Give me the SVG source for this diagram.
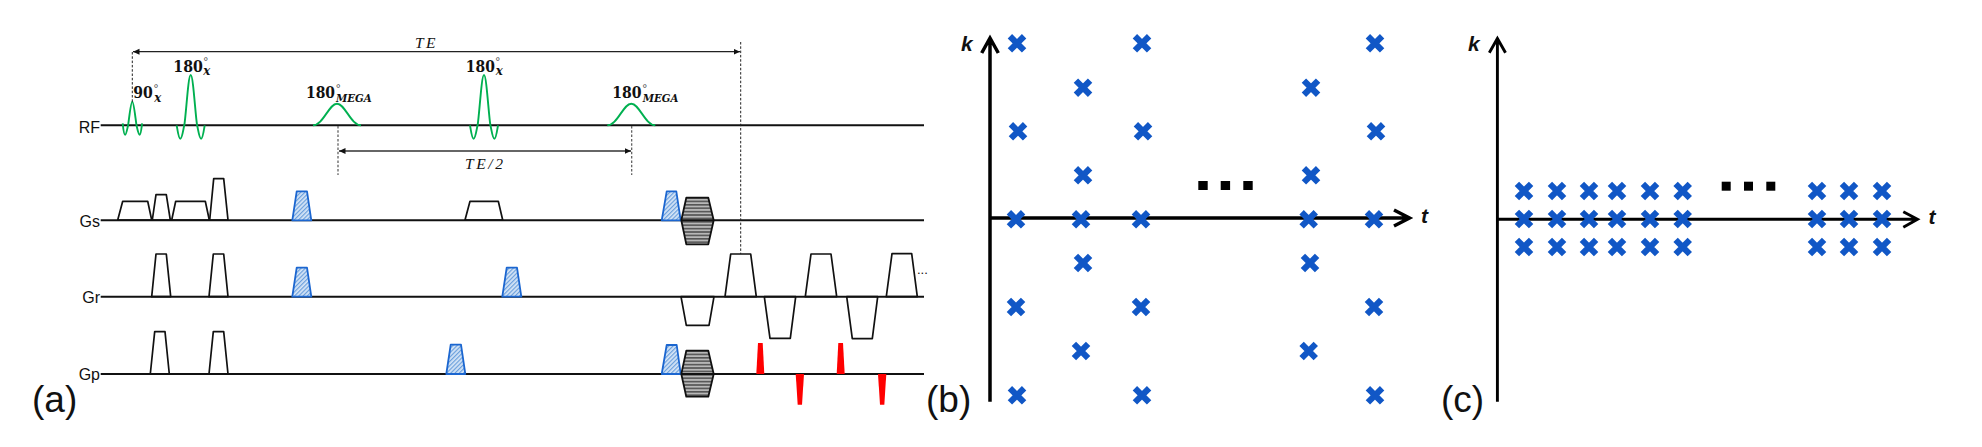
<svg xmlns="http://www.w3.org/2000/svg" xmlns:xlink="http://www.w3.org/1999/xlink" width="1982" height="447" viewBox="0 0 1982 447">
<style>
text{font-family:"Liberation Sans",Arial,sans-serif;fill:#111}
.lab{font-size:16px}
.pan{font-size:37px}
.ax{font-size:21px;font-weight:bold;font-style:italic}
.num{font-family:"DejaVu Serif",serif;font-weight:bold;font-size:16px}
.sub{font-family:"DejaVu Serif",serif;font-weight:bold;font-style:italic;font-size:11px}
.subx{font-family:"DejaVu Serif",serif;font-weight:bold;font-style:italic;font-size:12.5px}
.deg{font-family:"DejaVu Sans",sans-serif;font-size:11px;fill:#555}
.te{font-family:"Liberation Serif",serif;font-style:italic;font-size:15.5px}
.base{stroke:#111;stroke-width:1.9;fill:none}
.g{stroke:#111;stroke-width:1.7;fill:#fff;stroke-linejoin:round}
.b{stroke:#1b66d0;stroke-width:1.8;fill:url(#hatch);stroke-linejoin:round}
.h{stroke:#111;stroke-width:1.8;fill:url(#stripe);stroke-linejoin:round}
.r{fill:#ff0000}
.rf{stroke:#00b050;stroke-width:1.9;fill:none}
.dash{stroke:#222;stroke-width:1;stroke-dasharray:2.5 1.8;fill:none}
.dashg{stroke:#555;stroke-width:1.2;stroke-dasharray:2.5 1.8;fill:none}
.axis{stroke:#000;fill:none;stroke-linejoin:miter}
.sq{fill:#000}
</style>
<defs>
<pattern id="hatch" width="3" height="3" patternUnits="userSpaceOnUse" patternTransform="rotate(-45)">
<rect width="3" height="3" fill="#d6e5f7"/><rect width="3" height="1.2" fill="#6a9fdc"/>
</pattern>
<pattern id="stripe" width="3.4" height="3.4" patternUnits="userSpaceOnUse">
<rect width="3.4" height="3.4" fill="#b8b8b8"/><rect width="3.4" height="1.6" fill="#555"/>
</pattern>
<marker id="ah" markerWidth="8" markerHeight="7" refX="6.5" refY="3" orient="auto-start-reverse" markerUnits="userSpaceOnUse">
<path d="M0,0 L6.5,3 L0,6 Z" fill="#111"/>
</marker>
<path id="s180" class="rf" d="M-14,0 C-13,6 -12,13.4 -10.4,13.4 C-8.5,13.4 -7.5,4 -6.4,0 C-4.5,-12 -2.5,-50.3 0,-50.3 C2.5,-50.3 4.5,-12 6.4,0 C7.5,4 8.5,13.4 10.4,13.4 C12,13.4 13,6 14,0"/>
<path id="s90" class="rf" d="M-9.6,-2 C-9,4 -8.5,9.4 -7.2,9.4 C-6,9.4 -5,3 -4.2,0 C-3,-8 -1.5,-23.6 0,-23.6 C1.5,-23.6 3,-8 4.2,0 C5,3 6,9.4 7.5,9.4 C8.5,9.4 9,4 9.8,-2"/>
<path id="gau" class="rf" d="M-24,0 C-14,0 -8,-21.6 0,-21.6 C8,-21.6 14,0 24,0"/>
<path id="x" d="M-7.1,-7.1 L7.1,7.1 M-7.1,7.1 L7.1,-7.1" stroke="#1157c6" stroke-width="6.2" fill="none"/>
</defs>
<rect width="1982" height="447" fill="#fff"/>

<g id="panel-a">
<g id="row-rf">
<text class="lab" x="100" y="132.7" text-anchor="end">RF</text>
<path class="base" d="M100.7,125.3 H924"/>
<use xlink:href="#s90" href="#s90" x="132.3" y="125.3"/>
<use xlink:href="#s180" href="#s180" x="190.7" y="125.3"/>
<use xlink:href="#gau" href="#gau" x="337" y="125.3"/>
<use xlink:href="#s180" href="#s180" x="484" y="125.3"/>
<use xlink:href="#gau" href="#gau" x="631.3" y="125.3"/>
</g>
<g id="row-gs">
<text class="lab" x="100" y="227.3" text-anchor="end">Gs</text>
<path class="g" d="M117.7,220 L122.7,201.3 H147.7 L151.7,220 Z"/>
<path class="g" d="M152.3,220 L156,194.7 H166.3 L170.3,220 Z"/>
<path class="g" d="M171.7,220 L175.7,201.3 H205.3 L209.3,220 Z"/>
<path class="g" d="M209.7,220 L213.7,178.7 H223.7 L228,220 Z"/>
<path class="g" d="M465,220 L470,201.3 H498.3 L502.7,220 Z"/>
<path class="base" d="M100.7,220.3 H924"/>
<path class="b" d="M292.3,220.3 L296.7,191.3 H307 L311.3,220.3 Z"/>
<path class="b" d="M661.7,220.3 L666.7,191.3 H676.3 L680.7,220.3 Z"/>
<path class="h" d="M681.3,220.3 L686.3,197.7 H708.3 L713.7,220.3 L708.3,244.3 H686.3 Z"/>
<path class="base" d="M681.3,220.3 H713.7"/>
</g>
<g id="row-gr">
<text class="lab" x="100" y="303.3" text-anchor="end">Gr</text>
<path class="g" d="M151.7,296.7 L156,254 H166.3 L170.7,296.7 Z"/>
<path class="g" d="M209,296.7 L213.3,254 H223.7 L228,296.7 Z"/>
<path class="g" d="M681,296.7 L686.3,325.3 H709 L714,296.7 Z"/>
<path class="g" d="M725,296.7 L730.7,254 H750.7 L756.3,296.7 Z"/>
<path class="g" d="M764.3,296.7 L770,338.3 H790.3 L795.7,296.7 Z"/>
<path class="g" d="M805.3,296.7 L811,254 H831 L836.7,296.7 Z"/>
<path class="g" d="M846.7,296.7 L852.3,338.7 H872.3 L877.7,296.7 Z"/>
<path class="g" d="M886.3,296.7 L892,253.7 H911.7 L917.3,296.7 Z"/>
<path class="base" d="M100.7,296.7 H924"/>
<path class="b" d="M292.3,296.7 L296.7,267.7 H307 L311.3,296.7 Z"/>
<path class="b" d="M502.3,296.7 L506.7,267.7 H517 L521.3,296.7 Z"/>
<text x="917" y="274" style="font-size:13px">...</text>
</g>
<g id="row-gp">
<text class="lab" x="100" y="380" text-anchor="end">Gp</text>
<path class="g" d="M150.3,374 L154.7,331.7 H165 L169.3,374 Z"/>
<path class="g" d="M209,374 L213.3,331.7 H223.7 L228,374 Z"/>
<path class="base" d="M100.7,374 H924"/>
<path class="b" d="M446.3,374 L450.7,344.7 H461 L465.3,374 Z"/>
<path class="b" d="M661.7,374 L666.7,345 H676.7 L680.7,374 Z"/>
<path class="h" d="M681.3,374 L686.3,350.7 H708.3 L713.7,374 L708.3,396.7 H686.3 Z"/>
<path class="base" d="M681.3,374 H713.7"/>
<path class="r" d="M756.3,374 L758,343 H762.7 L764.3,374 Z"/>
<path class="r" d="M836.7,374 L838.3,343 H843 L844.7,374 Z"/>
<path class="r" d="M795.7,374 H804 L802,404.7 H797.7 Z"/>
<path class="r" d="M878,374 H886.3 L884.3,404.7 H880 Z"/>
</g>
<g id="rf-labels">
<text class="num" x="133.3" y="98.3" textLength="19.5" lengthAdjust="spacingAndGlyphs">90</text><text class="deg" x="153.3" y="92">°</text><text class="subx" x="154.3" y="101.7" textLength="7" lengthAdjust="spacingAndGlyphs">x</text>
<text class="num" x="173.3" y="71.7" textLength="29.5" lengthAdjust="spacingAndGlyphs">180</text><text class="deg" x="203" y="65.3">°</text><text class="subx" x="203.3" y="74.5" textLength="7" lengthAdjust="spacingAndGlyphs">x</text>
<text class="num" x="306" y="98.3" textLength="29" lengthAdjust="spacingAndGlyphs">180</text><text class="deg" x="335.5" y="92">°</text><text class="sub" x="336" y="101.7" textLength="35.7" lengthAdjust="spacingAndGlyphs">MEGA</text>
<text class="num" x="465.8" y="71.7" textLength="29" lengthAdjust="spacingAndGlyphs">180</text><text class="deg" x="495" y="65.3">°</text><text class="subx" x="495.7" y="75" textLength="7" lengthAdjust="spacingAndGlyphs">x</text>
<text class="num" x="612.3" y="98.3" textLength="29.3" lengthAdjust="spacingAndGlyphs">180</text><text class="deg" x="642" y="92">°</text><text class="sub" x="642.7" y="102" textLength="35.6" lengthAdjust="spacingAndGlyphs">MEGA</text>
<text class="te" x="415" y="48.3" textLength="20.5">TE</text>
<text class="te" x="465" y="169.3" textLength="38">TE/2</text>
</g>
<text id="label-a" class="pan" x="32" y="412">(a)</text>
</g>

<g id="connectors">
<path class="dash" d="M132.3,52 V102"/>
<path class="dash" d="M740.7,42 V254"/>
<path class="dashg" d="M338,126 V175"/>
<path class="dashg" d="M631.7,126 V175"/>
<path d="M133,51.7 H740" stroke="#222" stroke-width="1.2" fill="none" marker-start="url(#ah)" marker-end="url(#ah)"/>
<path d="M339,151 H631" stroke="#666" stroke-width="1.8" fill="none" marker-start="url(#ah)" marker-end="url(#ah)"/>
</g>

<g id="panel-b">
<path class="axis" stroke-width="3.5" d="M990,401.7 V39 M981.7,53 L990,38 L998.3,53"/>
<path class="axis" stroke-width="3.5" d="M990,218 H1409 M1394,210 L1409.5,218 L1394,226"/>
<text class="ax" x="961" y="50.7">k</text>
<text class="ax" x="1421" y="223.3">t</text>
<g id="samples-b">
<use href="#x" x="1017" y="43.3"/><use href="#x" x="1142" y="43.3"/><use href="#x" x="1375" y="43.3"/>
<use href="#x" x="1083" y="87.7"/><use href="#x" x="1311" y="87.7"/>
<use href="#x" x="1018" y="131.3"/><use href="#x" x="1143" y="131.3"/><use href="#x" x="1376" y="131.3"/>
<use href="#x" x="1083" y="175.3"/><use href="#x" x="1311" y="175.3"/>
<use href="#x" x="1016" y="219.3"/><use href="#x" x="1081" y="219.3"/><use href="#x" x="1141" y="219.3"/><use href="#x" x="1308.7" y="219.3"/><use href="#x" x="1374" y="219.3"/>
<use href="#x" x="1083" y="263"/><use href="#x" x="1310" y="263"/>
<use href="#x" x="1016" y="307"/><use href="#x" x="1141" y="307"/><use href="#x" x="1374" y="307"/>
<use href="#x" x="1081" y="351"/><use href="#x" x="1308.7" y="351"/>
<use href="#x" x="1017" y="395.3"/><use href="#x" x="1142" y="395.3"/><use href="#x" x="1375" y="395.3"/>
</g>
<rect class="sq" x="1198.3" y="181" width="9.4" height="9"/><rect class="sq" x="1220.7" y="181" width="9.4" height="9"/><rect class="sq" x="1243.3" y="181" width="9.4" height="9"/>
<text id="label-b" class="pan" x="926" y="412">(b)</text>
</g>

<g id="panel-c">
<path class="axis" stroke-width="2.9" d="M1497.4,401.7 V39.5 M1489.3,52.7 L1497.4,38.5 L1505.5,52.7"/>
<path class="axis" stroke-width="2.9" d="M1497.4,219.3 H1917 M1903.3,211.7 L1917.5,219.3 L1903.3,227.3"/>
<text class="ax" x="1468" y="50.7">k</text>
<text class="ax" x="1928.5" y="224">t</text>
<g id="samples-c">
<use href="#x" x="1524" y="191"/><use href="#x" x="1557" y="191"/><use href="#x" x="1589" y="191"/><use href="#x" x="1617" y="191"/><use href="#x" x="1650" y="191"/><use href="#x" x="1682.7" y="191"/><use href="#x" x="1817" y="191"/><use href="#x" x="1849" y="191"/><use href="#x" x="1882" y="191"/>
<use href="#x" x="1524" y="219"/><use href="#x" x="1557" y="219"/><use href="#x" x="1589" y="219"/><use href="#x" x="1617" y="219"/><use href="#x" x="1650" y="219"/><use href="#x" x="1682.7" y="219"/><use href="#x" x="1817" y="219"/><use href="#x" x="1849" y="219"/><use href="#x" x="1882" y="219"/>
<use href="#x" x="1524" y="247"/><use href="#x" x="1557" y="247"/><use href="#x" x="1589" y="247"/><use href="#x" x="1617" y="247"/><use href="#x" x="1650" y="247"/><use href="#x" x="1682.7" y="247"/><use href="#x" x="1817" y="247"/><use href="#x" x="1849" y="247"/><use href="#x" x="1882" y="247"/>
</g>
<rect class="sq" x="1721.7" y="181.7" width="9" height="9"/><rect class="sq" x="1744" y="181.7" width="9" height="9"/><rect class="sq" x="1766.3" y="181.7" width="9" height="9"/>
<text id="label-c" class="pan" x="1441" y="411.5">(c)</text>
</g>
</svg>
